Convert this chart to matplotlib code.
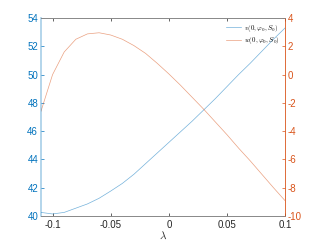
import numpy as np
import matplotlib
matplotlib.use("Agg")
import matplotlib.pyplot as plt

plt.rcParams['mathtext.fontset'] = 'cm'
plt.rcParams['font.family'] = ['Liberation Sans', 'DejaVu Sans']

# lambda grid and the two curves
lam = [-0.11, -0.10, -0.09, -0.08, -0.07, -0.06, -0.05, -0.04, -0.03, -0.02, -0.01,
       0.00, 0.01, 0.02, 0.03, 0.04, 0.05, 0.06, 0.07, 0.08, 0.09, 0.10]
v_vals = [40.25, 40.14, 40.25, 40.55, 40.85, 41.25, 41.76, 42.3, 42.95, 43.7, 44.45,
          45.2, 45.95, 46.7, 47.5, 48.3, 49.15, 50.0, 50.8, 51.65, 52.5, 53.3]
w_vals = [-2.6, 0.0, 1.6, 2.5, 2.88, 2.96, 2.8, 2.5, 2.05, 1.5, 0.8,
          0.05, -0.75, -1.6, -2.45, -3.35, -4.25, -5.2, -6.1, -7.05, -8.0, -8.92]

blue = '#0072BD'
orange = '#D95319'

fig = plt.figure(figsize=(3.15, 2.44), dpi=100)
ax = fig.add_axes([0.13, 0.115, 0.775, 0.811])
ax2 = ax.twinx()

l1, = ax.plot(lam, v_vals, color=blue, lw=0.5, alpha=0.55)
l2, = ax2.plot(lam, w_vals, color=orange, lw=0.5, alpha=0.55)

ax.set_xlim(-0.11, 0.1)
ax.set_ylim(40, 54)
ax2.set_ylim(-10, 4)
ax.set_xticks([-0.1, -0.05, 0, 0.05, 0.1])
ax.set_xticklabels(['-0.1', '-0.05', '0', '0.05', '0.1'])
ax.set_yticks([40, 42, 44, 46, 48, 50, 52, 54])
ax2.set_yticks([-10, -8, -6, -4, -2, 0, 2, 4])
ax2.set_yticklabels(['-10', '-8', '-6', '-4', '-2', '0', '2', '4'])

ax.tick_params(axis='x', direction='in', length=2, width=0.5, labelsize=7,
               colors='#262626', top=True, pad=3)
ax.tick_params(axis='y', direction='in', length=2, width=0.5, labelsize=7,
               colors=blue, pad=2)
ax2.tick_params(axis='y', direction='in', length=2, width=0.5, labelsize=7,
                colors=orange, pad=2)

for a in (ax, ax2):
    a.spines['top'].set_color('#888888')
    a.spines['bottom'].set_color('#888888')
    for s in a.spines.values():
        s.set_linewidth(0.6)
ax2.spines['left'].set_color(blue)
ax2.spines['left'].set_alpha(0.35)
ax2.spines['left'].set_linewidth(1.2)
ax2.spines['right'].set_color(orange)
ax.spines['left'].set_visible(False)
ax.spines['right'].set_visible(False)

ax.set_xlabel(r'$\lambda$', fontsize=8, labelpad=0, color='#262626')

leg = ax.legend([l1, l2], [r'$v(0,\varphi_0,S_0)$', r'$w(0,\varphi_0,S_0)$'],
                loc='upper right', fontsize=5, frameon=False, handlelength=2.2,
                borderaxespad=0.3, labelspacing=0.2, handletextpad=0.4)

fig.savefig('out.png', dpi=100)
